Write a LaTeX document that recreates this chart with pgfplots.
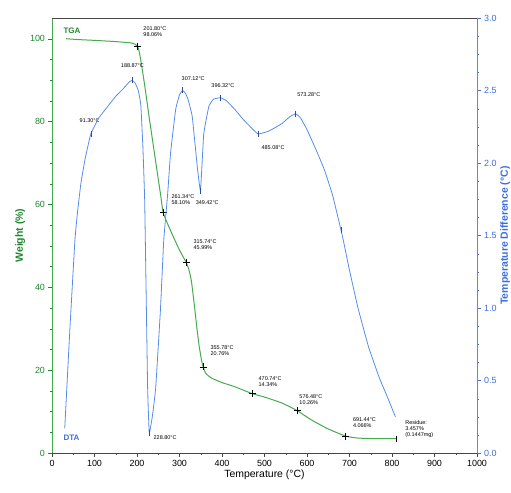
\documentclass[border=0pt]{standalone}
\usepackage{pgfplots}
\pgfplotsset{compat=1.18}
\usepackage{fontspec}
\setmainfont{Liberation Sans}
\definecolor{tgaline}{RGB}{70,170,80}
\definecolor{tgatext}{RGB}{30,135,45}
\definecolor{dtaline}{RGB}{85,140,235}
\definecolor{dtatext}{RGB}{60,110,220}
\definecolor{frame}{RGB}{70,70,70}
\newcommand{\ann}{\fontsize{5.5}{6}\selectfont}
\begin{document}
\begin{tikzpicture}
\begin{axis}[
  scale only axis, width=425bp, height=435bp,
  xmin=0, xmax=1000, ymin=0, ymax=105,
  axis y line*=left, axis x line*=bottom,
  xtick={0,100,...,1000}, minor x tick num=1,
  ytick={0,20,...,100}, minor y tick num=3,
  tick align=outside,
  major tick length=3.5bp, minor tick length=2bp,
  x axis line style={frame, line width=0.8pt, -},
  y axis line style={tgaline, line width=0.8pt, -},
  xtick style={frame}, ytick style={tgatext},
  y tick label style={tgatext},
  tick label style={font=\fontsize{9}{10}\selectfont},
  /pgf/number format/assume math mode=true,
  /pgf/number format/1000 sep={},
  xlabel={Temperature (°C)},
  xlabel style={font=\fontsize{10.5}{12}\selectfont, yshift=3bp},
  ylabel={Weight (\%)},
  ylabel style={font=\bfseries\fontsize{10.5}{12}\selectfont, tgatext, yshift=-2bp},
  clip=false,
]
\addplot[tgaline, line width=1pt, smooth, tension=0.3] coordinates {
(33,100)(60,99.8)(100,99.6)(150,99.3)(185,99.0)(195,98.7)(201.8,98.06)
(206,96.5)(211,93.5)(218,88.8)(228,81.5)(238,74.5)(248,67.5)(256,62)(261.34,58.1)
(270,55.8)(285,52.3)(300,49)(315.74,45.99)(322,44.3)(328,41.5)(334,36.5)
(340,31)(346,26)(352,22.3)(355.78,20.76)(362,19.2)(375,18.1)(400,17)(430,16)
(470.74,14.34)(500,13.5)(540,12.1)(576.48,10.26)(610,8)(650,5.8)(691.44,4.066)
(720,3.6)(760,3.47)(810,3.457)};
\addplot[only marks, mark=+, mark size=3.5bp, black, thick] coordinates {
(201.8,98.06)(261.34,58.1)(315.74,45.99)(355.78,20.76)(470.74,14.34)(576.48,10.26)(691.44,4.066)};
\addplot[only marks, mark=|, mark size=3bp, black, thin] coordinates {(810,3.457)};
\node[anchor=west, align=left, font=\ann] at (axis cs:207,101.6) {201.80°C\\98.06\%};
\node[anchor=west, align=left, font=\ann] at (axis cs:273,61.2) {261.34°C\\58.10\%};
\node[anchor=west, align=left, font=\ann] at (axis cs:325,50.2) {315.74°C\\45.99\%};
\node[anchor=west, align=left, font=\ann] at (axis cs:365,24.6) {355.78°C\\20.76\%};
\node[anchor=west, align=left, font=\ann] at (axis cs:478,17.3) {470.74°C\\14.34\%};
\node[anchor=west, align=left, font=\ann] at (axis cs:574,13.0) {576.48°C\\10.26\%};
\node[anchor=west, align=left, font=\ann] at (axis cs:700,7.4) {691.44°C\\4.066\%};
\node[anchor=west, align=left, font=\ann] at (axis cs:823,5.8) {Residue:\\3.457\%\\(0.1447mg)};
\node[anchor=west, font=\ann] at (axis cs:57,80.2) {91.30°C};
\node[anchor=west, font=\ann] at (axis cs:154,93.5) {188.87°C};
\node[anchor=west, font=\ann] at (axis cs:297,90.3) {307.12°C};
\node[anchor=west, font=\ann] at (axis cs:367,88.6) {396.32°C};
\node[anchor=west, font=\ann] at (axis cs:569,86.5) {573.28°C};
\node[anchor=west, font=\ann] at (axis cs:485,73.7) {485.08°C};
\node[anchor=west, font=\ann] at (axis cs:330,60.4) {349.42°C};
\node[anchor=west, font=\ann] at (axis cs:231,3.6) {228.80°C};
\node[anchor=west, font=\bfseries\fontsize{8}{9}\selectfont, tgatext] at (axis cs:19,101.9) {TGA};
\node[anchor=west, font=\bfseries\fontsize{8}{9}\selectfont, dtatext] at (axis cs:19,3.6) {DTA};
\end{axis}
\begin{axis}[
  scale only axis, width=425bp, height=435bp,
  xmin=0, xmax=1000, ymin=0, ymax=3,
  axis y line*=right, axis x line*=top,
  xtick=\empty,
  ytick={0,0.5,...,3.0}, minor y tick num=3,
  yticklabel style={/pgf/number format/fixed, /pgf/number format/fixed zerofill, /pgf/number format/precision=1},
  tick align=outside,
  major tick length=3.5bp, minor tick length=2bp,
  x axis line style={frame, line width=0.8pt, -},
  y axis line style={dtaline, line width=0.8pt, -},
  ytick style={dtatext},
  y tick label style={dtatext},
  tick label style={font=\fontsize{9}{10}\selectfont},
  /pgf/number format/assume math mode=true,
  ylabel={Temperature Difference (°C)},
  ylabel style={font=\bfseries\fontsize{10.5}{12}\selectfont, dtatext, yshift=3bp},
  clip=false,
]
\addplot[dtaline, line width=0.8pt, smooth, tension=0.2] coordinates {
(30,0.17)(42,0.85)(54,1.47)(60,1.66)(68,1.86)(78,2.03)(91.3,2.2)(110,2.31)(131,2.39)(150,2.46)(170,2.52)
(182,2.56)(188.87,2.57)(196,2.55)(203,2.5)(209,2.40)(214,2.1)(218,1.75)(221,1.2)(225,0.45)(228.8,0.14)
(236,0.25)(244,0.45)(255,0.98)(263,1.47)(272,1.78)(279,2.07)(291,2.37)(300,2.47)(307.12,2.50)
(314,2.48)(320,2.44)(330,2.32)(342,1.97)(349.42,1.81)(357,2.2)(369,2.39)(380,2.44)(396.32,2.45)
(410,2.43)(430,2.37)(450,2.3)(470,2.24)(485.08,2.2)(510,2.22)(540,2.27)(560,2.32)(573.28,2.34)
(585,2.31)(600,2.23)(620,2.1)(640,1.96)(660,1.78)(683,1.50)(700,1.26)(720,1.0)(745,0.73)(770,0.52)(790,0.38)(808,0.25)};
\addplot[only marks, mark=|, mark size=3bp, dtatext!70!black, thin] coordinates {
(91.3,2.2)(188.87,2.57)(228.8,0.14)(307.12,2.50)(349.42,1.81)(396.32,2.45)(485.08,2.2)(573.28,2.34)(680,1.54)};
\end{axis}
\pgfresetboundingbox
\path[use as bounding box] ([xshift=-52bp,yshift=-40bp]current axis.south west) rectangle ([xshift=34bp,yshift=18bp]current axis.north east);
\end{tikzpicture}
\end{document}
